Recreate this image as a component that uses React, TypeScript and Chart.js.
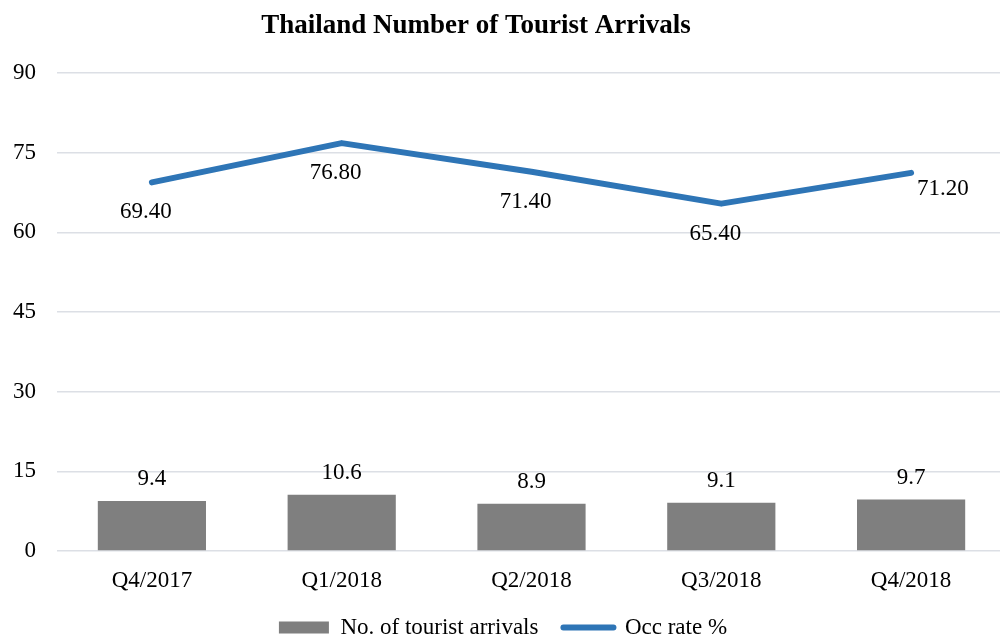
import React, { useEffect, useRef } from "react";
import { Chart, registerables } from "chart.js";

Chart.register(...registerables);

const categories = ["Q4/2017", "Q1/2018", "Q2/2018", "Q3/2018", "Q4/2018"];
const arrivals = [9.4, 10.6, 8.9, 9.1, 9.7];
const occRate = [69.4, 76.8, 71.4, 65.4, 71.2];
const yTicks = [0, 15, 30, 45, 60, 75, 90];

const chartTitle = "Thailand Number of Tourist Arrivals";
const barLabel = "No. of tourist arrivals";
const lineLabel = "Occ rate %";

const FONT = "'Liberation Serif', 'DejaVu Serif', serif";
const BAR_COLOR = "#7f7f7f";
const LINE_COLOR = "#2e75b6";
const TEXT_SIZE = 23;

const titlePlugin = {
  id: "customTitle",
  afterDraw(chart: any) {
    const ctx = chart.ctx;
    ctx.save();
    ctx.font = `bold 27px ${FONT}`;
    ctx.fillStyle = "#000";
    ctx.textAlign = "center";
    ctx.textBaseline = "middle";
    ctx.fillText(chartTitle, chart.width / 2 - 28, 26);
    ctx.restore();
  },
};

const labelPlugin = {
  id: "valueLabels",
  afterDatasetsDraw(chart: any) {
    const ctx = chart.ctx;
    ctx.save();
    ctx.font = `${TEXT_SIZE}px ${FONT}`;
    ctx.fillStyle = "#000";
    ctx.textBaseline = "middle";
    const barMeta = chart.getDatasetMeta(0);
    barMeta.data.forEach((el: any, i: number) => {
      ctx.textAlign = "center";
      ctx.fillText(arrivals[i].toFixed(1), el.x, el.y - 22);
    });
    const lineMeta = chart.getDatasetMeta(1);
    const n = lineMeta.data.length;
    lineMeta.data.forEach((el: any, i: number) => {
      const txt = occRate[i].toFixed(2);
      if (i === n - 1) {
        ctx.textAlign = "left";
        ctx.fillText(txt, el.x + 6, el.y + 16);
      } else {
        ctx.textAlign = "center";
        ctx.fillText(txt, el.x - 6, el.y + 30);
      }
    });
    ctx.restore();
  },
};

export default function App() {
  const canvasRef = useRef<HTMLCanvasElement | null>(null);

  useEffect(() => {
    document.body.style.margin = "0";
    document.body.style.overflow = "hidden";
    if (!canvasRef.current) return;
    Chart.defaults.font.family = FONT;
    Chart.defaults.color = "#000";
    const chart = new Chart(canvasRef.current, {
      type: "bar",
      data: {
        labels: categories,
        datasets: [
          {
            type: "bar",
            label: barLabel,
            data: arrivals,
            backgroundColor: BAR_COLOR,
            categoryPercentage: 1,
            barPercentage: 0.57,
            order: 2,
          },
          {
            type: "line",
            label: lineLabel,
            data: occRate,
            borderColor: LINE_COLOR,
            backgroundColor: LINE_COLOR,
            borderWidth: 6,
            pointRadius: 0,
            pointHoverRadius: 0,
            tension: 0,
            borderCapStyle: "round",
            borderJoinStyle: "round",
            order: 1,
          } as any,
        ],
      },
      options: {
        animation: false,
        responsive: false,
        maintainAspectRatio: false,
        layout: { padding: { top: 73, left: 0, right: 2, bottom: 1 } },
        scales: {
          x: {
            grid: { display: false, drawTicks: false },
            border: { display: false },
            ticks: { font: { size: TEXT_SIZE }, color: "#000", padding: 16 },
            afterFit: (scale: any) => {
              scale.height = 40;
            },
          },
          y: {
            min: 0,
            max: 90,
            afterBuildTicks: (scale: any) => {
              scale.ticks = yTicks.map((v) => ({ value: v }));
            },
            grid: { color: "#dcdfe5", lineWidth: 1.6, drawTicks: false },
            border: { display: false },
            ticks: { font: { size: TEXT_SIZE }, color: "#000", padding: 21 },
            afterFit: (scale: any) => {
              scale.width = 57;
            },
          },
        },
        plugins: {
          title: { display: false },
          tooltip: { enabled: false },
          legend: {
            display: true,
            position: "bottom",
            labels: {
              font: { size: TEXT_SIZE },
              color: "#000",
              usePointStyle: true,
              pointStyleWidth: 50,
              boxHeight: 12,
              padding: 25,
              generateLabels: (c: any) =>
                c.data.datasets.map((ds: any, i: number) => ({
                  text: ds.label,
                  fillStyle: i === 0 ? BAR_COLOR : LINE_COLOR,
                  strokeStyle: i === 0 ? BAR_COLOR : LINE_COLOR,
                  lineWidth: i === 0 ? 0 : 6,
                  lineCap: "round",
                  pointStyle: i === 0 ? "rect" : "line",
                  hidden: false,
                  datasetIndex: i,
                  fontColor: "#000",
                })),
            },
          },
        },
      },
      plugins: [titlePlugin, labelPlugin],
    });
    return () => chart.destroy();
  }, []);

  return (
    <div style={{ width: 1000, height: 642, overflow: "hidden", position: "relative" }}>
      <canvas ref={canvasRef} width={1008} height={650} style={{ width: 1008, height: 650, display: "block" }} />
    </div>
  );
}
